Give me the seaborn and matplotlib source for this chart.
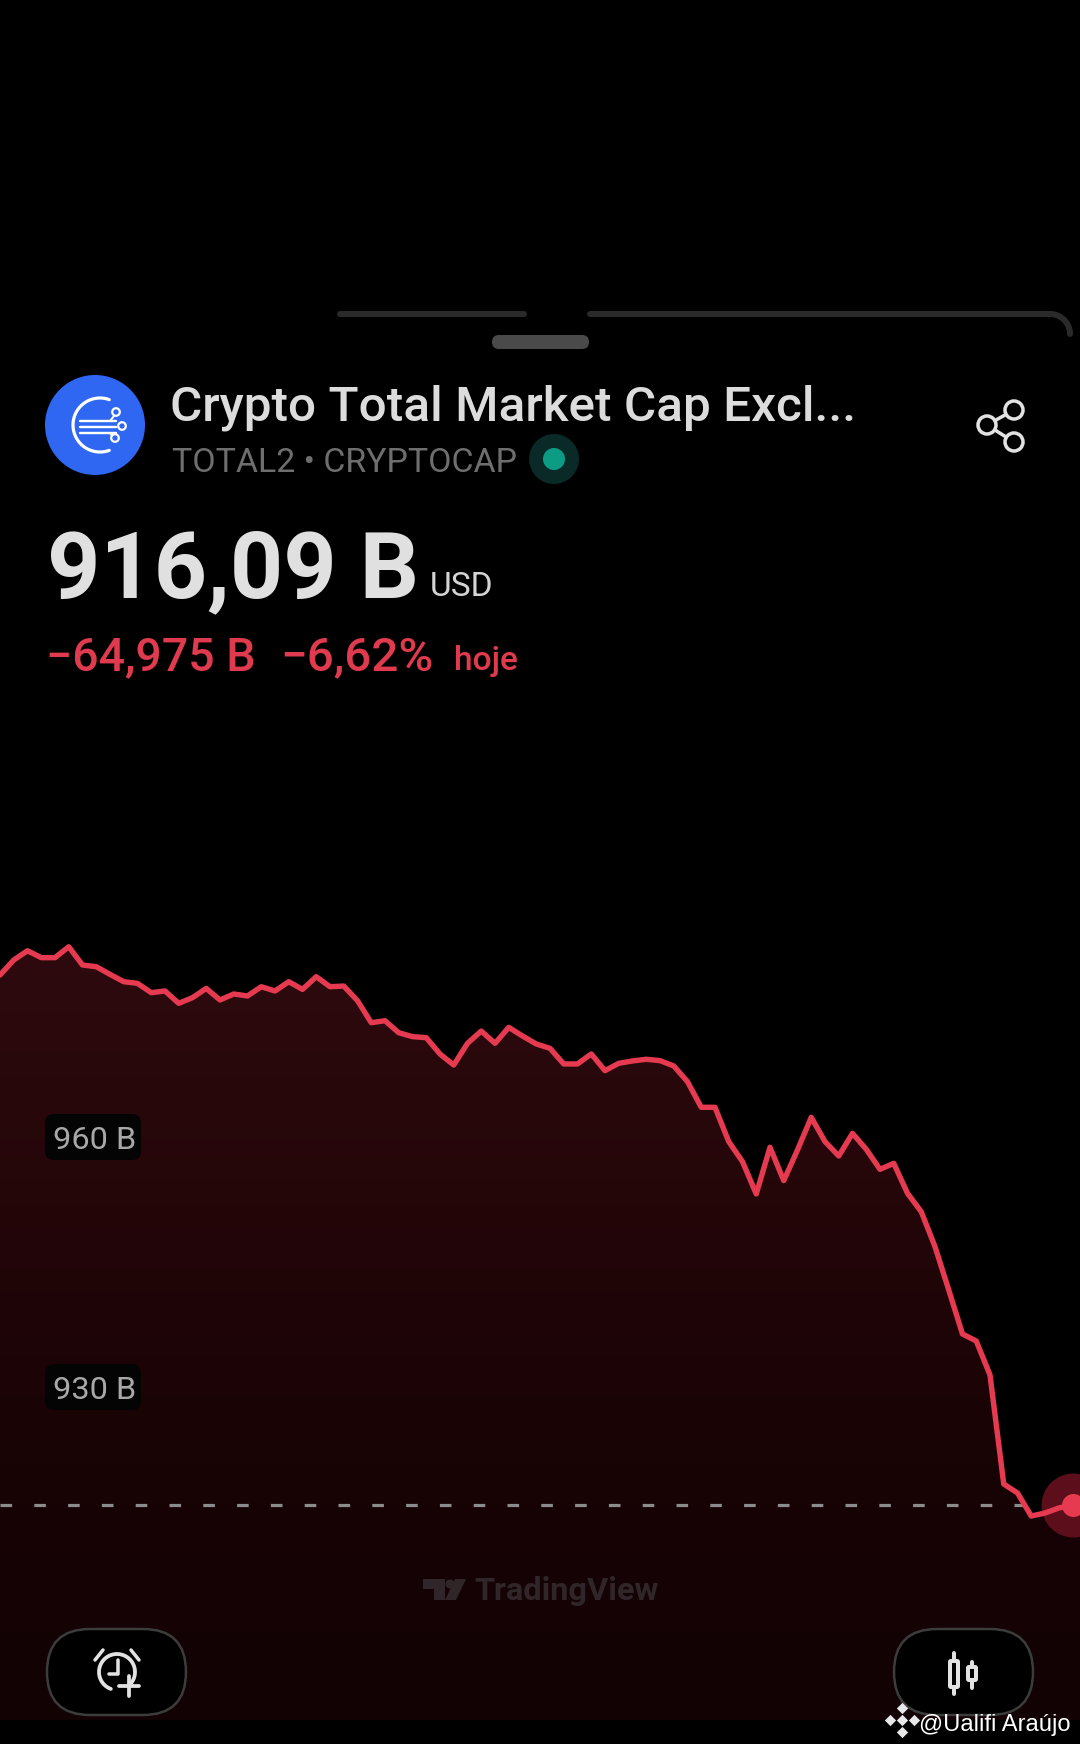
import numpy as np
import matplotlib
matplotlib.use('Agg')
import matplotlib.pyplot as plt
import seaborn as sns
from matplotlib.colors import LinearSegmentedColormap
from matplotlib.patches import Circle, FancyBboxPatch, Polygon

# valores (miles de millones USD)
valores = [979.56, 981.36, 982.47, 981.64, 981.64, 982.95, 980.76, 980.56, 979.64, 978.76,
           978.56, 977.45, 977.65, 976.17, 976.85, 977.96, 976.57, 977.29, 977.05, 978.16,
           977.65, 978.76, 977.84, 979.36, 978.16, 978.24, 976.49, 973.85, 974.09, 972.65,
           972.18, 972.06, 970.10, 968.78, 971.38, 972.85, 971.38, 973.29, 972.26, 971.30,
           970.78, 968.91, 968.91, 970.11, 968.11, 968.99, 969.27, 969.47, 969.31, 968.67,
           966.79, 963.72, 963.72, 959.61, 957.21, 953.34, 958.93, 954.94, 958.61, 962.52,
           959.61, 957.89, 960.60, 958.69, 956.29, 957.01, 953.42, 951.22, 947.03, 941.84,
           936.57, 935.73, 931.66, 918.60, 917.53, 914.77, 915.13, 915.73, 916.09]
etiquetas_y = [960, 930]
precio_actual = 916.09

ROJO = '#e63a50'
ROJO_TEXTO = '#e03a4e'
W, H = 1080, 1744

sns.set_theme(style='dark', rc={'figure.facecolor': 'black', 'axes.facecolor': 'black'})
plt.rcParams['font.family'] = ['Roboto', 'DejaVu Sans']


def pt(px):
    # tamaño en puntos a partir de pixeles (dpi 100)
    return px * 0.72


fig = plt.figure(figsize=(W / 100, H / 100), dpi=100)
ax = fig.add_axes([0, 0, 1, 1])
ui = fig.add_axes([0, 0, 1, 1], zorder=5)
ui.patch.set_alpha(0)
ui.set_xlim(0, W)
ui.set_ylim(H, 0)
ui.axis('off')

# --- grafico ---
paso = 13.75
x_max = W / paso
esc = 8.35
y_top = precio_actual + 1505 / esc
y_bot = precio_actual - (H - 1505) / esc
y_fondo = precio_actual - (1720 - 1505) / esc
idx = np.arange(len(valores))

relleno = ax.fill_between(list(idx) + [x_max], valores + [valores[-1]], y_fondo,
                          color='none', linewidth=0)
cmap = LinearSegmentedColormap.from_list('r', ['#2e0a0e', '#240609', '#180305', '#120204'])
im = ax.imshow(np.linspace(0, 1, 256)[:, None], cmap=cmap, aspect='auto',
               extent=[0, x_max, y_fondo, max(valores)], zorder=1)
im.set_clip_path(relleno.get_paths()[0], transform=ax.transData)

ax.hlines(precio_actual, 0, x_max, color='#8c8c8c', linewidth=pt(3.2),
          linestyles=(0, (11.6 / 3.2, 22.2 / 3.2)), zorder=2)
ax.scatter([idx[-1]], [valores[-1]], s=pt(64) ** 2, color='#5c0f1a', linewidth=0, zorder=2)
sns.lineplot(x=idx, y=valores, ax=ax, color=ROJO, linewidth=pt(5.4), zorder=3)
ax.scatter([idx[-1]], [valores[-1]], s=pt(23) ** 2, color=ROJO, linewidth=0, zorder=4)

ax.set_xlim(0, x_max)
ax.set_ylim(y_bot, y_top)
ax.axis('off')


# --- interfaz ---
def linea(xs, ys, color='#e2e2e2', lw=3.5, **kw):
    ui.plot(xs, ys, color=color, linewidth=pt(lw), solid_capstyle=kw.pop('cap', 'round'), **kw)


def arco(cx, cy, r, a0, a1, **kw):
    t = np.radians(np.linspace(a0, a1, 60))
    linea(cx + r * np.cos(t), cy - r * np.sin(t), **kw)


def pastilla(x0, y0, x1, y1, fc, ec='none', lw=0, rad=None):
    rad = rad if rad is not None else (y1 - y0) / 2
    ui.add_patch(FancyBboxPatch((x0, y0), x1 - x0, y1 - y0,
                                boxstyle=f'round,pad=0,rounding_size={rad}',
                                fc=fc, ec=ec, linewidth=pt(lw)))


# etiquetas del eje
for v, y_px in zip(etiquetas_y, (1137, 1387)):
    pastilla(45, y_px - 23, 141, y_px + 23, '#040404', rad=9)
    ui.text(95, y_px, f'{v} B', ha='center', va='center_baseline', color='#a8a8a8',
            fontsize=pt(32.5), zorder=6)

# borde de la hoja
linea([340, 524], [314, 314], color='#2a2a2a', lw=6)
linea([590, 1050], [314, 314], color='#2a2a2a', lw=6)
arco(1050, 334, 20, 90, 0, color='#2a2a2a', lw=6)
pastilla(492, 335, 589, 349, '#4a4a4a')

# logo
ui.add_patch(Circle((95, 425), 50, fc='#2f67f2', ec='none'))
arco(100, 425, 27, 70, 290, color='white', lw=3.2)
for yy in (421, 427, 433):
    linea([80, 116], [yy, yy], color='white', lw=2.4)
linea([104, 110, 114], [421, 421, 416], color='white', lw=2)
linea([104, 110, 113], [433, 433, 437], color='white', lw=2)
for cx, cy in ((116, 412), (122, 426), (115, 438)):
    ui.add_patch(Circle((cx, cy), 3.8, fc='#2f67f2', ec='white', linewidth=pt(2.2), zorder=3))

ui.text(170, 420, 'Crypto Total Market Cap Excl...', color='#dcdcdc', fontsize=pt(49.5),
        fontweight='medium', va='baseline')
ui.text(172, 472, 'TOTAL2 • CRYPTOCAP', color='#6e6e6e', fontsize=pt(33.9), va='baseline')
ui.add_patch(Circle((554, 459), 25, fc='#092a26', ec='none'))
ui.add_patch(Circle((554, 459), 11, fc='#0b9c83', ec='none'))

# compartir
linea([1014, 987, 1014], [410, 425, 442], lw=3.5)
for cx, cy in ((1014, 410), (987, 425), (1014, 442)):
    ui.add_patch(Circle((cx, cy), 9, fc='black', ec='#e2e2e2', linewidth=pt(3.5), zorder=3))

# precio
ui.text(47, 597, '916,09 B', color='#e0e0e0', fontsize=pt(93), fontweight='bold', va='baseline')
ui.text(430, 596, 'USD', color='#d4d4d4', fontsize=pt(33.5), va='baseline')
ui.text(46, 670, '−64,975 B', color=ROJO_TEXTO, fontsize=pt(46.5), fontweight='medium', va='baseline')
ui.text(280, 670, '−6,62%', color=ROJO_TEXTO, fontsize=pt(47.5), fontweight='medium', va='baseline')
ui.text(454, 670, 'hoje', color=ROJO_TEXTO, fontsize=pt(33.5), fontweight='medium', va='baseline')

# marca TradingView
gris = '#30262a'
ui.add_patch(Polygon([(423, 1579), (445, 1579), (445, 1600), (434, 1600), (434, 1589), (423, 1589)],
                     fc=gris, ec='none'))
ui.add_patch(Circle((450, 1584), 4.5, fc=gris, ec='none'))
ui.add_patch(Polygon([(455, 1579), (466, 1579), (456, 1600), (445, 1600)], fc=gris, ec='none'))
ui.text(474, 1600, 'TradingView', color=gris, fontsize=pt(32.5), fontweight='bold', va='baseline')

# botones
pastilla(47, 1629, 186, 1715, 'black', ec='#3c3c3c', lw=2.5)
pastilla(894, 1629, 1033, 1715, 'black', ec='#3c3c3c', lw=2.5)
arco(117, 1672, 18, -50, 250, lw=3.8)
linea([95, 103], [1660, 1650], lw=3.5)
linea([131, 139], [1650, 1660], lw=3.5)
linea([118, 118, 109], [1660, 1674, 1674], lw=3.5)
linea([119, 139], [1686, 1686], lw=3.8)
linea([129, 129], [1676, 1696], lw=3.8)

ui.add_patch(FancyBboxPatch((950, 1661), 8, 26, boxstyle='round,pad=0,rounding_size=1',
                            fc='black', ec='#e2e2e2', linewidth=pt(4)))
linea([954, 954], [1653, 1661], lw=4)
linea([954, 954], [1687, 1694], lw=4)
ui.add_patch(FancyBboxPatch((968, 1667), 8, 13, boxstyle='round,pad=0,rounding_size=1',
                            fc='black', ec='#e2e2e2', linewidth=pt(4)))
linea([972, 972], [1662, 1667], lw=4)
linea([972, 972], [1680, 1688], lw=4)

# firma
for cx, cy in ((902, 1708), (902, 1732), (890, 1720), (914, 1720), (902, 1720)):
    ui.scatter([cx], [cy], marker='D', s=pt(8) ** 2, color='#e8e8e8', linewidth=0, zorder=6)
ui.text(919, 1731, '@Ualifi Araújo', color='white', fontsize=pt(23.7),
        family=['Liberation Sans', 'DejaVu Sans'], va='baseline', zorder=6)

fig.savefig('out.png', dpi=100, facecolor='black')
